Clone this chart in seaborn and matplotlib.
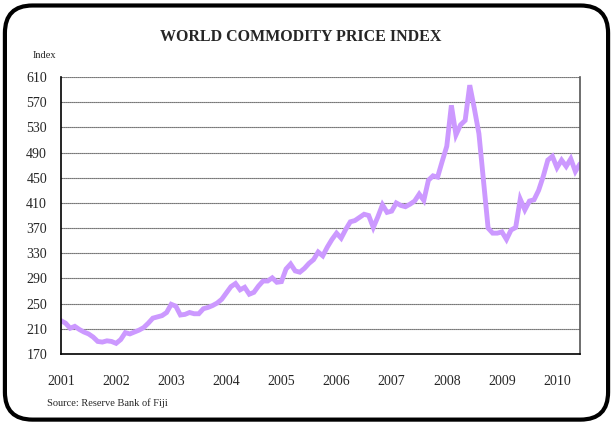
import numpy as np
import pandas as pd
import matplotlib
matplotlib.use("Agg")
import matplotlib.pyplot as plt
from matplotlib.patches import FancyBboxPatch
import seaborn as sns

# monthly index, Jan 2001 .. Jun 2010
index_values = [
    223, 219, 211, 214, 209, 205, 202, 197, 190, 189, 191, 190,   # 2001
    187, 193, 204, 202, 205, 208, 212, 219, 227, 229, 231, 236,   # 2002
    249, 246, 232, 233, 236, 234, 234, 242, 244, 247, 251, 257,   # 2003
    267, 277, 282, 272, 276, 265, 268, 278, 286, 286, 291, 284,   # 2004
    285, 305, 313, 302, 300, 306, 314, 320, 332, 326, 340, 352,   # 2005
    362, 354, 368, 380, 382, 387, 392, 390, 371, 388, 407, 395,   # 2006
    397, 410, 406, 404, 408, 413, 424, 414, 446, 453, 451, 476,   # 2007
    500, 565, 518, 534, 541, 597, 560, 520, 445, 370, 362, 362,   # 2008
    364, 352, 367, 371, 416, 399, 413, 415, 430, 452, 478, 484,   # 2009
    466, 478, 468, 480, 460, 472,                                 # 2010
]
years = list(range(2001, 2011))
y_ticks = list(range(170, 611, 40))

df = pd.DataFrame({"month": np.arange(len(index_values)), "index": index_values})

sns.set_style("white")
plt.rcParams["font.family"] = ["Liberation Serif", "DejaVu Serif"]

fig = plt.figure(figsize=(6.13, 4.23), dpi=100)
ax = fig.add_axes([0.0995, 0.163, 0.8466, 0.655])

sns.lineplot(data=df, x="month", y="index", ax=ax, color="#CC99FF",
             linewidth=3.5, solid_joinstyle="miter")

ax.set_xlim(0, len(index_values) - 1)
ax.set_ylim(170, 610)
ax.set_yticks(y_ticks)
ax.set_yticklabels([str(v) for v in y_ticks], fontsize=10)
ax.set_xticks([12 * i for i in range(len(years))])
ax.set_xticklabels([str(y) for y in years], fontsize=10)
ax.set_xticks(np.arange(0, len(index_values), 6), minor=True)
ax.tick_params(axis="x", which="major", direction="out", length=3, width=1, pad=12)
ax.tick_params(axis="x", which="minor", direction="out", length=3, width=1)
ax.tick_params(axis="y", direction="out", length=3, width=1, pad=7)
ax.set_xlabel("")
ax.set_ylabel("")

ax.grid(axis="y", color="#222222", linestyle=(0, (1, 0.8)), linewidth=0.8)
ax.grid(axis="x", visible=False)
ax.set_axisbelow(True)
for side in ["left", "bottom"]:
    ax.spines[side].set_color("black")
    ax.spines[side].set_linewidth(1.2)
ax.spines["top"].set_visible(False)
ax.spines["right"].set_color("#555555")
ax.spines["right"].set_linewidth(1.2)

fig.text(0.49, 0.912, "WORLD COMMODITY PRICE INDEX", ha="center", va="center",
         fontsize=11.5, fontweight="bold")
fig.text(0.054, 0.868, "Index", ha="left", va="center", fontsize=7.5)
fig.text(0.077, 0.048, "Source: Reserve Bank of Fiji", ha="left", va="center", fontsize=7.5)

border = FancyBboxPatch((0.008, 0.008), 0.984, 0.979, boxstyle="round,pad=0,rounding_size=0.045",
                        transform=fig.transFigure, fill=False, edgecolor="black",
                        linewidth=3, mutation_aspect=613 / 423)
fig.patches.append(border)

fig.savefig("out.png", dpi=100)
